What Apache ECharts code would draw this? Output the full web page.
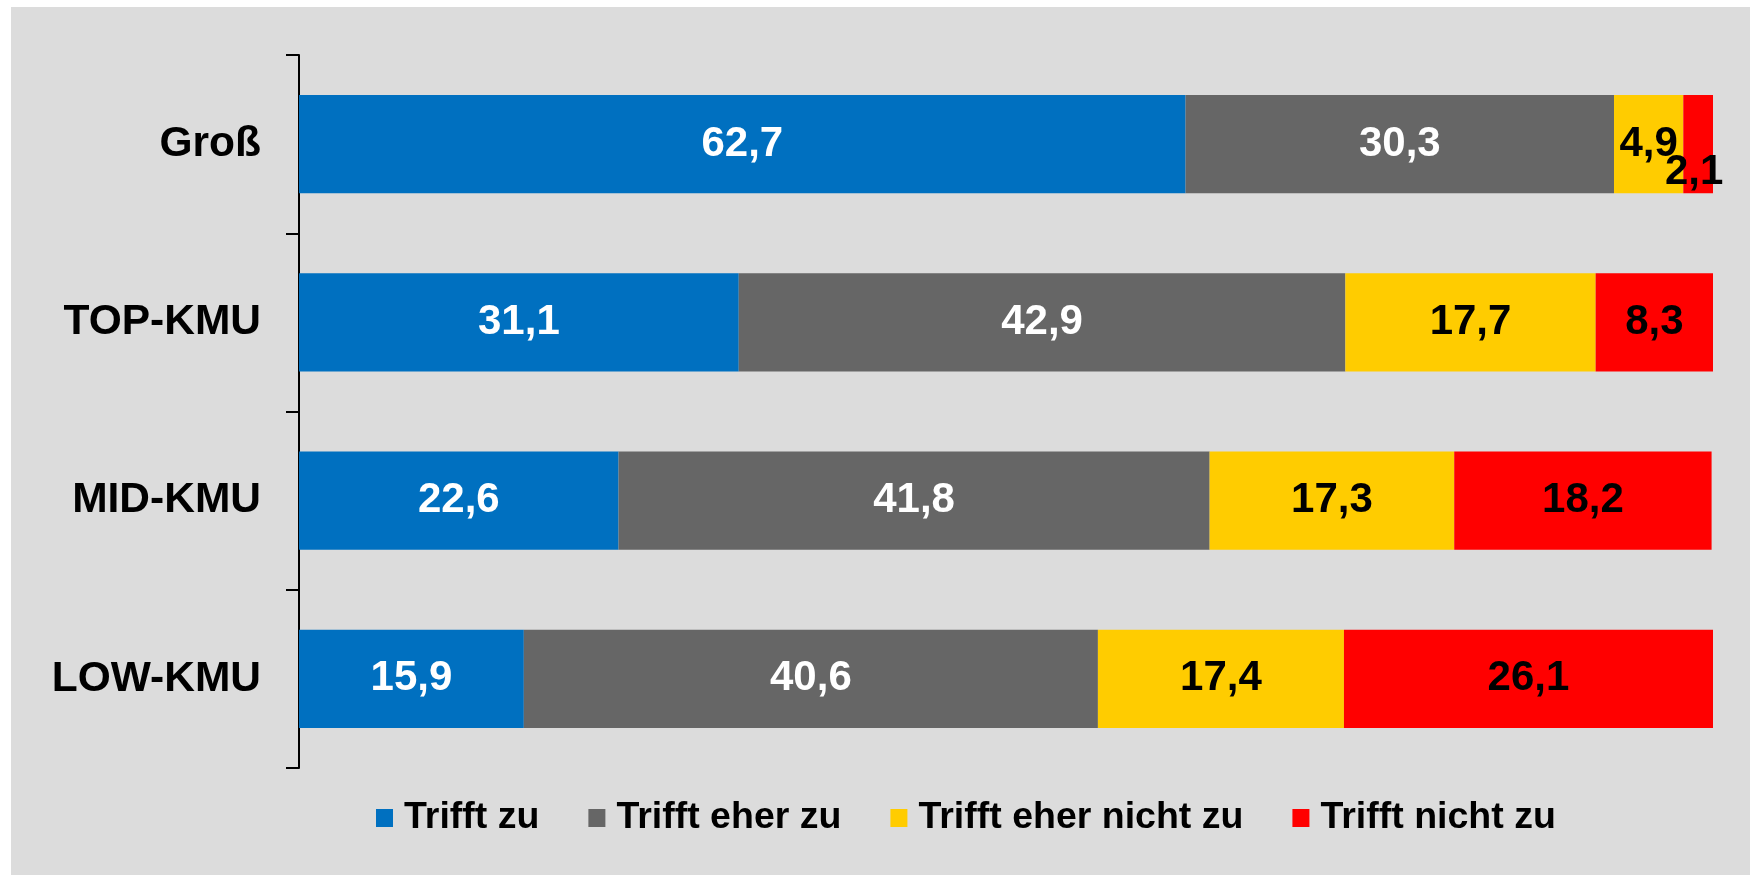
<!DOCTYPE html>
<html>
<head>
<meta charset="utf-8">
<script src="https://cdn.jsdelivr.net/npm/echarts@6/dist/echarts.min.js"></script>
<style>
  html, body { margin: 0; padding: 0; background: #ffffff; }
  #bg { position: absolute; left: 11px; top: 7px; width: 1739px; height: 868px; background: #dcdcdc; }
  #chart { position: absolute; left: 0; top: 0; width: 1754px; height: 878px; }
</style>
</head>
<body>
<div id="bg"></div>
<div id="chart"></div>
<script>
// Kategorien (von oben nach unten)
var categories = ['Groß', 'TOP-KMU', 'MID-KMU', 'LOW-KMU'];
var seriesNames = ['Trifft zu', 'Trifft eher zu', 'Trifft eher nicht zu', 'Trifft nicht zu'];
var triffZu = [62.7, 31.1, 22.6, 15.9];
var eherZu = [30.3, 42.9, 41.8, 40.6];
var eherNichtZu = [4.9, 17.7, 17.3, 17.4];
var nichtZu = [2.1, 8.3, 18.2, 26.1];
var colors = ['#0070c0', '#666666', '#ffcc00', '#ff0000'];
var labelColors = ['#ffffff', '#ffffff', '#000000', '#000000'];

var font = "'Liberation Sans', Arial, sans-serif";
var chart = echarts.init(document.getElementById('chart'));

function fmt(p) {
    return String(p.value).replace('.', ',');
}

var values = [triffZu, eherZu, eherNichtZu, nichtZu];
var series = values.map(function (arr, i) {
    return {
        name: seriesNames[i],
        type: 'bar',
        stack: 'total',
        barWidth: '55%',
        itemStyle: { color: colors[i] },
        label: {
            show: true,
            position: 'inside',
            formatter: fmt,
            color: labelColors[i],
            fontFamily: font,
            fontWeight: 'bold',
            fontSize: 42
        },
        data: arr.map(function (v, j) {
            // kleiner Wert bei "Groß" wird nach unten versetzt
            if (i === 3 && j === 0) {
                return { value: v, label: { offset: [-4, 28] } };
            }
            return v;
        })
    };
});

var option = {
    animation: false,
    color: colors,
    grid: { left: 299, right: 41, top: 55, bottom: 110 },
    legend: {
        data: seriesNames,
        left: 371,
        top: 794,
        itemWidth: 17,
        itemHeight: 18,
        itemGap: 49,
        icon: 'rect',
        textStyle: {
            fontFamily: font, fontWeight: 'bold', fontSize: 37.5, color: '#000000',
            padding: [0, 0, 0, 6]
        }
    },
    xAxis: {
        type: 'value',
        min: 0,
        max: 100,
        show: false,
        splitLine: { show: false }
    },
    yAxis: {
        type: 'category',
        data: categories,
        inverse: true,
        axisLine: { show: true, lineStyle: { color: '#000000', width: 2 } },
        axisTick: { show: true, length: 13, lineStyle: { color: '#000000', width: 2 } },
        axisLabel: { margin: 38, fontFamily: font, fontWeight: 'bold', fontSize: 42.5, color: '#000000' }
    },
    series: series
};

option && chart.setOption(option);
</script>
</body>
</html>
